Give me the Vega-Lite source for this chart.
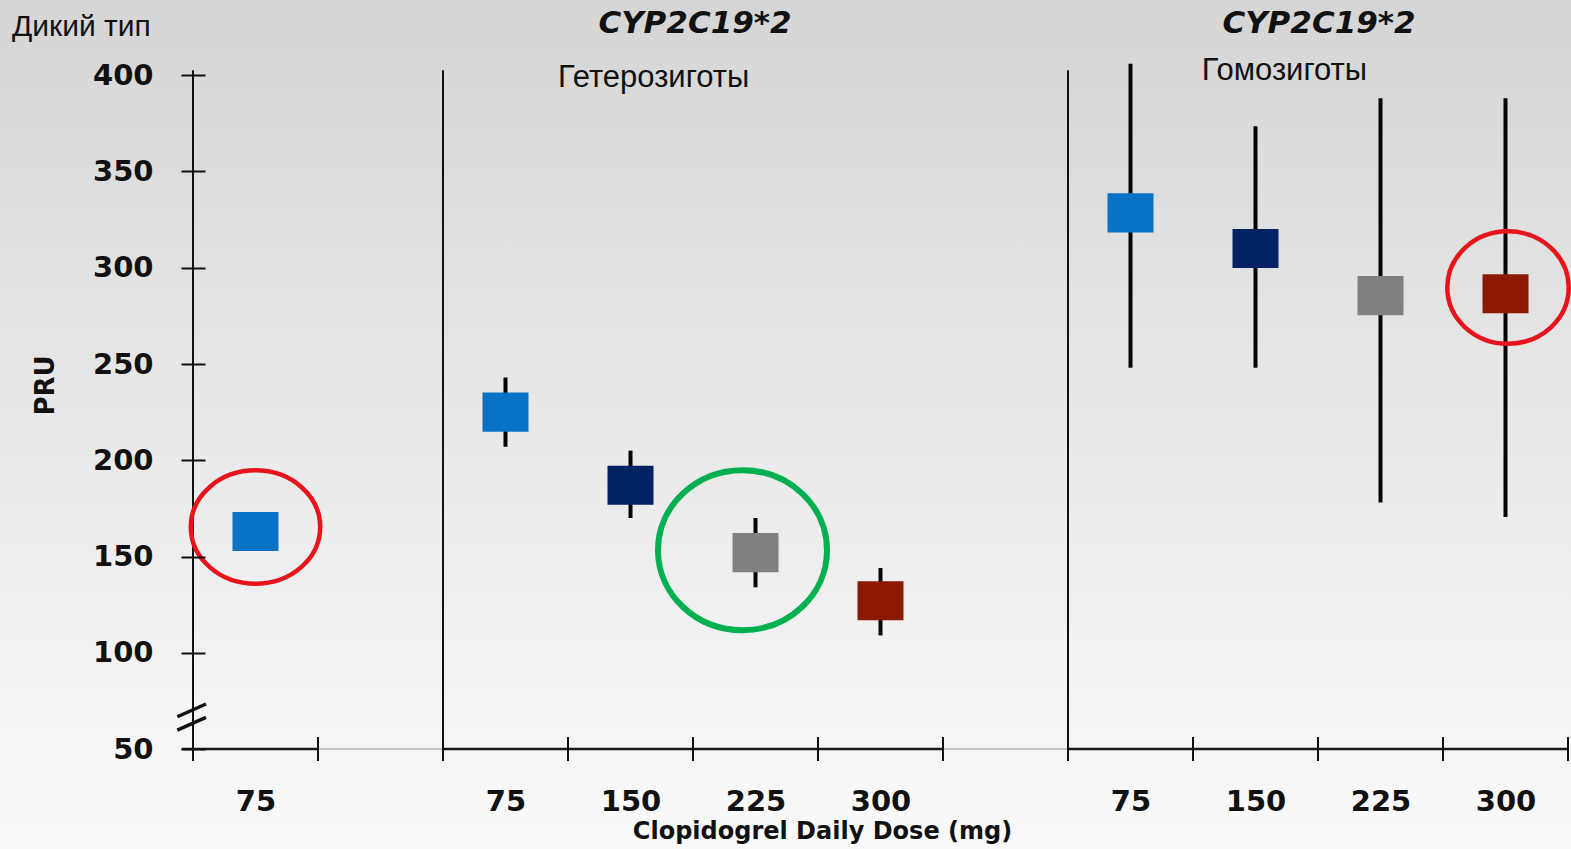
{
  "$schema": "https://vega.github.io/schema/vega-lite/v6.json",
  "width": 1375,
  "height": 693,
  "autosize": {"type": "none"},
  "padding": {"left": 193, "top": 56, "right": 3, "bottom": 100},
  "background": "#e6e6e6",
  "config": {"view": {"stroke": null}, "font": "DejaVu Sans"},
  "datasets": {
    "points": [
      {"genotype": "Дикий тип", "slot": 0.5, "dose": "75", "pru": 163, "lo": null, "hi": null},
      {"genotype": "Гетерозиготы", "slot": 2.5, "dose": "75", "pru": 225, "lo": 207, "hi": 243},
      {"genotype": "Гетерозиготы", "slot": 3.5, "dose": "150", "pru": 187, "lo": 170, "hi": 205},
      {"genotype": "Гетерозиготы", "slot": 4.5, "dose": "225", "pru": 152, "lo": 134, "hi": 170},
      {"genotype": "Гетерозиготы", "slot": 5.5, "dose": "300", "pru": 127, "lo": 109, "hi": 144},
      {"genotype": "Гомозиготы", "slot": 7.5, "dose": "75", "pru": 328.5, "lo": 248, "hi": 406},
      {"genotype": "Гомозиготы", "slot": 8.5, "dose": "150", "pru": 310, "lo": 248, "hi": 373.5},
      {"genotype": "Гомозиготы", "slot": 9.5, "dose": "225", "pru": 285.5, "lo": 178, "hi": 388},
      {"genotype": "Гомозиготы", "slot": 10.5, "dose": "300", "pru": 286.5, "lo": 170.5, "hi": 388}
    ],
    "labels": [
      {"kind": "group", "label": "Дикий тип", "slot": -1.448, "pru": 420.3},
      {"kind": "gene", "label": "CYP2C19*2", "slot": 4.016, "pru": 421.8},
      {"kind": "gene", "label": "CYP2C19*2", "slot": 9.008, "pru": 421.8},
      {"kind": "zyg", "label": "Гетерозиготы", "slot": 2.92, "pru": 393.8},
      {"kind": "zyg", "label": "Гомозиготы", "slot": 8.07, "pru": 397.4}
    ],
    "highlights": [
      {"id": "wt", "slot": 0.5, "pru": 165.3},
      {"id": "het", "slot": 4.396, "pru": 153.3},
      {"id": "hom", "slot": 10.52, "pru": 289.7}
    ],
    "segments": [
      {"kind": "solid", "from": -0.09, "to": 1, "pru": 50},
      {"kind": "faint", "from": 1, "to": 2, "pru": 50},
      {"kind": "solid", "from": 2, "to": 6, "pru": 50},
      {"kind": "faint", "from": 6, "to": 7, "pru": 50},
      {"kind": "solid", "from": 7, "to": 11, "pru": 50}
    ],
    "xticks": [
      {"slot": 0, "lo": 43.8, "hi": 56.2}, {"slot": 1, "lo": 43.8, "hi": 56.2}, {"slot": 2, "lo": 43.8, "hi": 56.2},
      {"slot": 3, "lo": 43.8, "hi": 56.2}, {"slot": 4, "lo": 43.8, "hi": 56.2}, {"slot": 5, "lo": 43.8, "hi": 56.2},
      {"slot": 6, "lo": 43.8, "hi": 56.2}, {"slot": 7, "lo": 43.8, "hi": 56.2}, {"slot": 8, "lo": 43.8, "hi": 56.2},
      {"slot": 9, "lo": 43.8, "hi": 56.2}, {"slot": 10, "lo": 43.8, "hi": 56.2}, {"slot": 11, "lo": 43.8, "hi": 56.2}
    ],
    "frames": [
      {"slot": 0, "lo": 50, "hi": 402.6},
      {"slot": 2, "lo": 50, "hi": 402.6},
      {"slot": 7, "lo": 50, "hi": 402.6}
    ],
    "backdrop": [{"x0": -2, "x1": 12, "y0": -15, "y1": 450}],
    "breakmark": [{"slot": -0.01, "pru": 66.6}]
  },
  "encoding": {
    "x": {
      "type": "quantitative",
      "scale": {"domain": [0, 11], "nice": false, "zero": false},
      "axis": {
        "zindex": 1,
        "values": [0.5, 2.5, 3.5, 4.5, 5.5, 7.5, 8.5, 9.5, 10.5],
        "domain": false, "grid": false, "ticks": false, "tickSize": 0,
        "labelExpr": "(datum.value==0.5||datum.value==2.5||datum.value==7.5) ? '75' : (datum.value==3.5||datum.value==8.5) ? '150' : (datum.value==4.5||datum.value==9.5) ? '225' : '300'",
        "labelOverlap": false, "labelFlush": false, "labelBound": false,
        "labelFont": "DejaVu Sans", "labelFontWeight": "bold", "labelFontSize": 29, "labelColor": "#111111",
        "labelBaseline": "alphabetic", "labelPadding": 61,
        "title": "Clopidogrel Daily Dose (mg)",
        "titleFont": "DejaVu Sans", "titleFontWeight": "bold", "titleFontSize": 24, "titleColor": "#111111",
        "titleX": 629, "titleY": 89, "titleAlign": "center", "titleBaseline": "alphabetic"
      }
    },
    "y": {
      "type": "quantitative",
      "scale": {"domain": [50, 410], "nice": false, "zero": false},
      "axis": {
        "zindex": 1,
        "values": [50, 100, 150, 200, 250, 300, 350, 400],
        "domain": false, "grid": false, "offset": -12,
        "tickSize": 24, "tickWidth": 2, "tickColor": "#111111",
        "labelFont": "DejaVu Sans", "labelFontWeight": "bold", "labelFontSize": 29, "labelColor": "#111111",
        "labelPadding": 28,
        "title": "PRU",
        "titleFont": "DejaVu Sans", "titleFontWeight": "bold", "titleFontSize": 26, "titleColor": "#111111",
        "titleX": -160, "titleY": 329, "titleAngle": 270, "titleAlign": "center", "titleBaseline": "middle"
      }
    }
  },
  "layer": [
    {
      "data": {"name": "backdrop"},
      "mark": {
        "type": "rect", "clip": false,
        "color": {
          "gradient": "linear", "x1": 0, "y1": 0, "x2": 0, "y2": 1,
          "stops": [
            {"offset": 0, "color": "#d4d4d4"},
            {"offset": 0.45, "color": "#e7e7e7"},
            {"offset": 1, "color": "#fbfbfb"}
          ]
        }
      },
      "encoding": {
        "x": {"field": "x0"},
        "x2": {"field": "x1"},
        "y": {"field": "y1"},
        "y2": {"field": "y0"}
      }
    },
    {
      "data": {"name": "segments"},
      "transform": [{"filter": "datum.kind == 'solid'"}],
      "mark": {"type": "rule", "color": "#1a1a1a", "strokeWidth": 2.5},
      "encoding": {
        "x": {"field": "from"},
        "x2": {"field": "to"},
        "y": {"field": "pru"}
      }
    },
    {
      "data": {"name": "segments"},
      "transform": [{"filter": "datum.kind == 'faint'"}],
      "mark": {"type": "rule", "color": "#b5b5b5", "strokeWidth": 1.5},
      "encoding": {
        "x": {"field": "from"},
        "x2": {"field": "to"},
        "y": {"field": "pru"}
      }
    },
    {
      "data": {"name": "xticks"},
      "mark": {"type": "rule", "color": "#111111", "strokeWidth": 2},
      "encoding": {
        "x": {"field": "slot"},
        "y": {"field": "lo"},
        "y2": {"field": "hi"}
      }
    },
    {
      "data": {"name": "frames"},
      "mark": {"type": "rule", "color": "#111111", "strokeWidth": 2},
      "encoding": {
        "x": {"field": "slot"},
        "y": {"field": "lo"},
        "y2": {"field": "hi"}
      }
    },
    {
      "data": {"name": "breakmark"},
      "mark": {
        "type": "point", "filled": false, "opacity": 1, "strokeWidth": 3.5, "color": "#111111", "size": 900,
        "shape": "M-0.96,-0.02L0.95,-0.87M-0.96,0.87L0.95,0.02"
      },
      "encoding": {
        "x": {"field": "slot"},
        "y": {"field": "pru"}
      }
    },
    {
      "data": {"name": "points"},
      "transform": [{"filter": "isValid(datum.lo)"}],
      "mark": {"type": "rule", "color": "#050505", "strokeWidth": 4},
      "encoding": {
        "x": {"field": "slot"},
        "y": {"field": "lo"},
        "y2": {"field": "hi"}
      }
    },
    {
      "data": {"name": "points"},
      "mark": {
        "type": "point", "filled": true, "opacity": 1, "strokeWidth": 0, "size": 2116,
        "shape": "M-1,-0.85L1,-0.85L1,0.85L-1,0.85Z"
      },
      "encoding": {
        "x": {"field": "slot"},
        "y": {"field": "pru"},
        "color": {
          "field": "dose", "type": "nominal",
          "scale": {"domain": ["75", "150", "225", "300"], "range": ["#0a72c4", "#022264", "#808080", "#8c1a02"]},
          "legend": null
        }
      }
    },
    {
      "data": {"name": "highlights"},
      "transform": [{"filter": "datum.id == 'wt'"}],
      "mark": {
        "type": "point", "filled": false, "opacity": 1, "strokeWidth": 4.5, "color": "#e8141c", "size": 16744,
        "shape": "M-1,0A1,0.876,0,1,0,1,0A1,0.876,0,1,0,-1,0Z"
      },
      "encoding": {
        "x": {"field": "slot"},
        "y": {"field": "pru"}
      }
    },
    {
      "data": {"name": "highlights"},
      "transform": [{"filter": "datum.id == 'het'"}],
      "mark": {
        "type": "point", "filled": false, "opacity": 1, "strokeWidth": 6, "color": "#00b050", "size": 28561,
        "shape": "M-1,0A1,0.947,0,1,0,1,0A1,0.947,0,1,0,-1,0Z"
      },
      "encoding": {
        "x": {"field": "slot"},
        "y": {"field": "pru"}
      }
    },
    {
      "data": {"name": "highlights"},
      "transform": [{"filter": "datum.id == 'hom'"}],
      "mark": {
        "type": "point", "filled": false, "opacity": 1, "strokeWidth": 4.5, "color": "#e8141c", "size": 14738,
        "shape": "M-1,0A1,0.926,0,1,0,1,0A1,0.926,0,1,0,-1,0Z"
      },
      "encoding": {
        "x": {"field": "slot"},
        "y": {"field": "pru"}
      }
    },
    {
      "data": {"name": "labels"},
      "transform": [{"filter": "datum.kind == 'group'"}],
      "mark": {"type": "text", "font": "Liberation Sans", "fontSize": 30, "color": "#111111", "align": "left", "baseline": "alphabetic"},
      "encoding": {
        "x": {"field": "slot"},
        "y": {"field": "pru"},
        "text": {"field": "label"}
      }
    },
    {
      "data": {"name": "labels"},
      "transform": [{"filter": "datum.kind == 'gene'"}],
      "mark": {"type": "text", "font": "DejaVu Sans", "fontSize": 31, "fontWeight": "bold", "fontStyle": "italic", "color": "#111111", "align": "center", "baseline": "alphabetic"},
      "encoding": {
        "x": {"field": "slot"},
        "y": {"field": "pru"},
        "text": {"field": "label"}
      }
    },
    {
      "data": {"name": "labels"},
      "transform": [{"filter": "datum.kind == 'zyg'"}],
      "mark": {"type": "text", "font": "Liberation Sans", "fontSize": 31, "color": "#111111", "align": "left", "baseline": "alphabetic"},
      "encoding": {
        "x": {"field": "slot"},
        "y": {"field": "pru"},
        "text": {"field": "label"}
      }
    }
  ]
}
